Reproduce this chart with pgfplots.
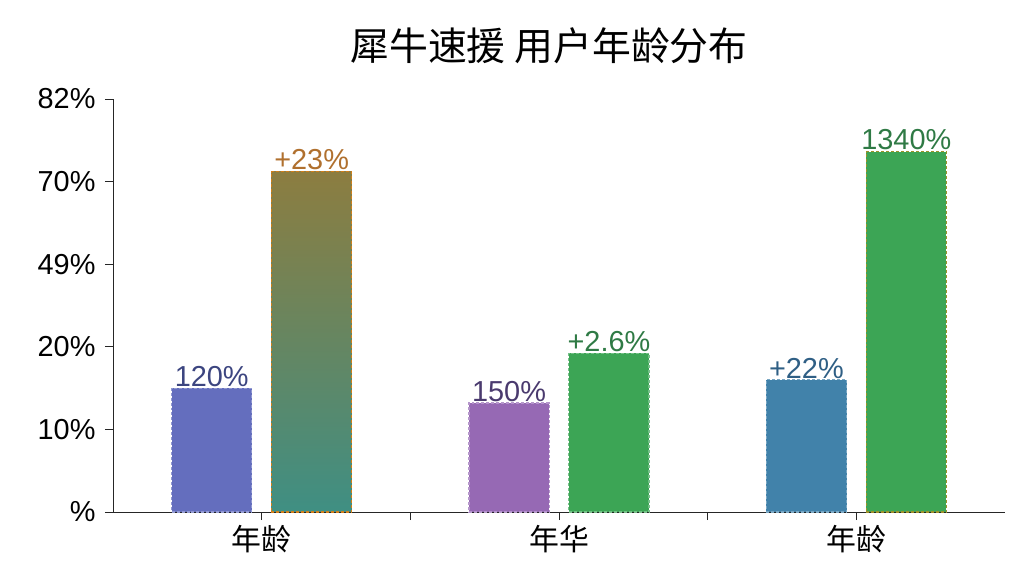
\documentclass[border=0pt]{standalone}
\usepackage{fontspec}
\setmainfont{Liberation Sans}
\newfontfamily\cjk{Noto Sans CJK SC}
\usepackage{pgfplots}
\pgfplotsset{compat=1.18}
\definecolor{cBlueP}{HTML}{646EBE}
\definecolor{cOlive}{HTML}{8C7D40}
\definecolor{cTeal}{HTML}{3F8F83}
\definecolor{cPurple}{HTML}{9669B4}
\definecolor{cGreen}{HTML}{3CA555}
\definecolor{cBlue}{HTML}{4182AA}
\definecolor{tNavy}{HTML}{3C4580}
\definecolor{tOrange}{HTML}{B0702E}
\definecolor{tPurple}{HTML}{4A3A6E}
\definecolor{tGreen}{HTML}{2F7A45}
\definecolor{tBlue}{HTML}{2F5F85}
\begin{document}
\begin{tikzpicture}
\path (-113bp,-64bp) rectangle (911bp,512bp);
\node[font=\cjk\fontsize{39}{46}\selectfont, anchor=center] at (436bp,466bp) {犀牛速援 用户年龄分布};
\begin{axis}[
  at={(0,0)}, anchor=south west,
  scale only axis, width=892bp, height=413bp,
  xmin=-0.5, xmax=2.5, ymin=0, ymax=5,
  axis lines*=left,
  axis line style={black!85, line width=1pt},
  tick style={black!85, line width=1pt},
  tick align=outside, major tick length=8bp,
  xtick={0,1,2}, xticklabels={年龄,年华,年龄},
  extra x ticks={0.5,1.5}, extra x tick labels={},
  xticklabel style={font=\cjk\fontsize{30}{36}\selectfont, yshift=-2bp},
  ytick={0,1,2,3,4,5},
  yticklabels={\%,10\%,20\%,49\%,70\%,82\%},
  yticklabel style={font=\fontsize{29}{34}\selectfont, xshift=-6bp},
  clip=false,
  nodes near coords style={font=\fontsize{29}{33}\selectfont, anchor=south, inner sep=1bp},
]
\addplot[ybar, bar width=0.27, bar shift=0pt, fill=cBlueP, draw=cBlueP!70!white, dash pattern=on 3pt off 2pt, line width=1.2pt,
  nodes near coords={120\%}, every node near coord/.append style={text=tNavy}]
  coordinates {(-0.168,1.50)};
\addplot[ybar, bar width=0.27, bar shift=0pt, top color=cOlive, bottom color=cTeal, draw=orange!60!cOlive, dash pattern=on 3pt off 2pt, line width=1.2pt,
  nodes near coords={+23\%}, every node near coord/.append style={text=tOrange}]
  coordinates {(0.168,4.12)};
\addplot[ybar, bar width=0.27, bar shift=0pt, fill=cPurple, draw=cPurple!70!white, dash pattern=on 3pt off 2pt, line width=1.2pt,
  nodes near coords={150\%}, every node near coord/.append style={text=tPurple}]
  coordinates {(0.832,1.32)};
\addplot[ybar, bar width=0.27, bar shift=0pt, fill=cGreen, draw=cGreen!70!white, dash pattern=on 3pt off 2pt, line width=1.2pt,
  nodes near coords={+2.6\%}, every node near coord/.append style={text=tGreen}]
  coordinates {(1.168,1.92)};
\addplot[ybar, bar width=0.27, bar shift=0pt, fill=cBlue, draw=cBlue!70!white, dash pattern=on 3pt off 2pt, line width=1.2pt,
  nodes near coords={+22\%}, every node near coord/.append style={text=tBlue}]
  coordinates {(1.832,1.60)};
\addplot[ybar, bar width=0.27, bar shift=0pt, fill=cGreen, draw=orange!50!cGreen, dash pattern=on 3pt off 2pt, line width=1.2pt,
  nodes near coords={1340\%}, every node near coord/.append style={text=tGreen}]
  coordinates {(2.168,4.36)};
\end{axis}
\end{tikzpicture}
\end{document}
